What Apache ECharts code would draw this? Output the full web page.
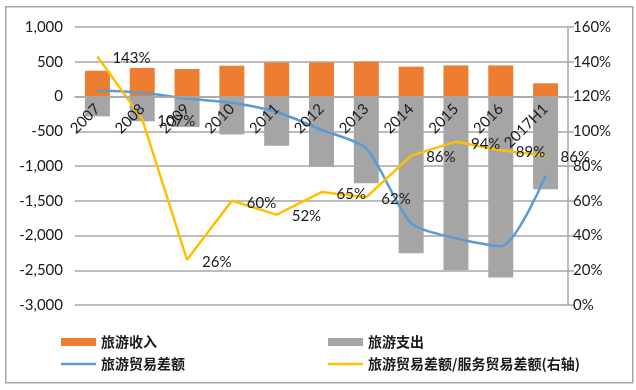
<!DOCTYPE html>
<html>
<head>
<meta charset="utf-8">
<script src="https://cdn.jsdelivr.net/npm/echarts@6/dist/echarts.min.js"></script>
<style>
html,body{margin:0;padding:0;background:#fff;}
#c{width:636px;height:390px;}
</style>
</head>
<body>
<div id="c"></div>
<script>
const categories = ['2007','2008','2009','2010','2011','2012','2013','2014','2015','2016','2017H1'];
const income = [371, 410, 395, 443, 490, 490, 500, 429, 447, 447, 190];
const expense = [-286, -357, -438, -548, -710, -1010, -1248, -2257, -2496, -2604, -1333];
const balance = [86, 55, -30, -90, -224, -480, -750, -1822, -2040, -2155, -1140];
const ratio = [143, 107, 26, 60, 52, 65, 62, 86, 94, 89, 86];
const leftTicks = {min: -3000, max: 1000, interval: 500};
const rightTicks = {min: 0, max: 160, interval: 20};

const FONT = 'Lato, "Noto Sans CJK SC", sans-serif';
const CJK = '"Noto Sans CJK SC", sans-serif';
const GRID = {left: 75, right: 68, top: 27, bottom: 85};
const chart = echarts.init(document.getElementById('c'), null, {renderer: 'canvas'});

// offset of the category axis so that it sits on the left axis' zero
const plotH = 390 - GRID.top - GRID.bottom;
const zeroFromBottom = plotH * (0 - leftTicks.min) / (leftTicks.max - leftTicks.min);

function legendAt(name, left, top, isLine) {
  return {
    data: [{name: name, icon: 'rect'}], left: left, top: top, orient: 'horizontal',
    itemWidth: 35, itemHeight: isLine ? 2.5 : 8, itemGap: 5,
    textStyle: {fontFamily: CJK, fontSize: 14, fontWeight: 'bold', color: '#1a1a1a'},
    selectedMode: false
  };
}

chart.setOption({
  animation: false,
  backgroundColor: '#fff',
  graphic: [{
    type: 'rect', left: 5, top: 6, z: -1,
    shape: {width: 627, height: 376},
    style: {fill: '#fff', stroke: '#a6a6a6', lineWidth: 1.5}
  }],
  grid: Object.assign({containLabel: false}, GRID),
  legend: [
    legendAt('旅游收入', 56, 330, false),
    legendAt('旅游贸易差额', 56, 352, true),
    legendAt('旅游支出', 323, 330, false),
    legendAt('旅游贸易差额/服务贸易差额(右轴)', 323, 352, true)
  ],
  xAxis: {
    type: 'category', data: categories, z: 10, position: 'bottom', offset: -zeroFromBottom,
    axisLine: {show: true, onZero: false, lineStyle: {color: '#a6a6a6', width: 1.5}},
    axisTick: {show: false},
    axisLabel: {rotate: 45, interval: 0, margin: 10, fontFamily: FONT, fontSize: 15, color: '#1a1a1a'}
  },
  yAxis: [{
    type: 'value', min: leftTicks.min, max: leftTicks.max, interval: leftTicks.interval,
    axisLine: {show: false}, axisTick: {show: false},
    splitLine: {lineStyle: {color: '#a6a6a6', width: 1.5}},
    axisLabel: {fontFamily: FONT, fontSize: 15, color: '#1a1a1a', margin: 12,
      formatter: v => v.toLocaleString('en-US')}
  }, {
    type: 'value', min: rightTicks.min, max: rightTicks.max, interval: rightTicks.interval,
    position: 'right',
    axisLine: {show: true, lineStyle: {color: '#a6a6a6', width: 1.5}},
    axisTick: {show: true, length: 6, lineStyle: {color: '#a6a6a6', width: 1.5}},
    splitLine: {show: false},
    axisLabel: {fontFamily: FONT, fontSize: 15, color: '#1a1a1a', margin: 5, formatter: '{value}%'}
  }],
  series: [{
    name: '旅游收入', type: 'bar', stack: 'tour', data: income, barWidth: 25,
    itemStyle: {color: '#ED7D31'}, z: 2
  }, {
    name: '旅游支出', type: 'bar', stack: 'tour', data: expense, barWidth: 25,
    itemStyle: {color: '#A5A5A5'}, z: 2
  }, {
    name: '旅游贸易差额', type: 'line', data: balance, symbol: 'none', smooth: 0.25,
    lineStyle: {color: '#5B9BD5', width: 2.5}, itemStyle: {color: '#5B9BD5'}, z: 3
  }, {
    name: '旅游贸易差额/服务贸易差额(右轴)', type: 'line', yAxisIndex: 1, data: ratio,
    symbol: 'circle', symbolSize: 0.01, showSymbol: true,
    lineStyle: {color: '#FFC000', width: 2.5}, itemStyle: {color: '#FFC000'}, z: 4,
    label: {show: true, position: 'right', distance: 15, offset: [0, 2],
      fontFamily: FONT, fontSize: 15, color: '#1a1a1a', formatter: p => p.value + '%'}
  }]
});
</script>
</body>
</html>
